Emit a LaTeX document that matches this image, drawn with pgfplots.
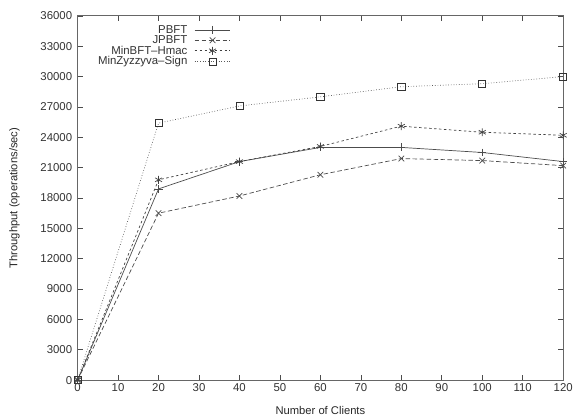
\documentclass[border=0pt]{standalone}
\usepackage{fontspec}
\setmainfont{Liberation Sans}
\usepackage{pgfplots}
\pgfplotsset{compat=1.18}
\begin{document}
\begin{tikzpicture}[x=1bp,y=1bp]
\begin{axis}[
  name=ax,
  scale only axis,
  width=488bp, height=366bp,
  xmin=0, xmax=120, ymin=0, ymax=36000,
  xtick={0,10,...,120},
  ytick={0,3000,...,36000},
  tick align=inside,
  major tick length=5bp,
  axis line style={black!60, line width=0.9pt},
  tick style={black!70, line width=0.7pt},
  /pgf/number format/assume math mode=true,
  scaled y ticks=false,
  yticklabel style={/pgf/number format/1000 sep={}, font=\fontsize{11.5}{12}\selectfont, text=black!80, xshift=-2bp},
  xticklabel style={font=\fontsize{11.5}{12}\selectfont, text=black!80},
  xlabel={Number of Clients},
  ylabel={Throughput (operations/sec)},
  label style={font=\fontsize{11.3}{12}\selectfont, text=black!85},
  xlabel style={yshift=-8bp},
  ylabel style={yshift=14bp},
  legend plot pos=right,
  legend cell align=right,
  legend style={draw=none, fill=none, at={(0.318,0.983)}, anchor=north east,
    font=\fontsize{11.5}{11.5}\selectfont, text=black!80, row sep=-3bp, inner sep=1bp,
    /tikz/every odd column/.append style={column sep=5bp}},
  legend image code/.code={\draw[mark repeat=2,mark phase=2,#1] plot coordinates {(0bp,0bp)(18bp,0bp)(36bp,0bp)};},
]
\addplot[black!70, solid, mark=+, mark size=4bp, line width=0.7pt] coordinates {(0,0) (20,18900) (40,21600) (60,23000) (80,23000) (100,22500) (120,21600)};
\addlegendentry{PBFT}
\addplot[black!70, dash pattern=on 4.5bp off 2.5bp, mark=x, mark size=4bp, mark options={solid}, line width=0.7pt] coordinates {(0,0) (20,16500) (40,18200) (60,20300) (80,21900) (100,21700) (120,21200)};
\addlegendentry{JPBFT}
\addplot[black!75, dash pattern=on 2.5bp off 2.5bp, mark=asterisk, mark size=4bp, mark options={solid}, line width=0.7pt] coordinates {(0,0) (20,19800) (40,21600) (60,23100) (80,25100) (100,24500) (120,24200)};
\addlegendentry{MinBFT--Hmac}
\addplot[black!65, dotted, mark=square, mark size=3.6bp, mark options={solid, black!80}, line width=0.7pt] coordinates {(0,0) (20,25400) (40,27100) (60,28000) (80,29000) (100,29300) (120,30000)};
\addlegendentry{MinZyzzyva--Sign}
\end{axis}
\path (ax.south west) ++(-78bp,-36bp) coordinate (bl);
\path (ax.north east) ++(10bp,16bp) coordinate (tr);
\path (bl) rectangle (tr);
\end{tikzpicture}
\end{document}
